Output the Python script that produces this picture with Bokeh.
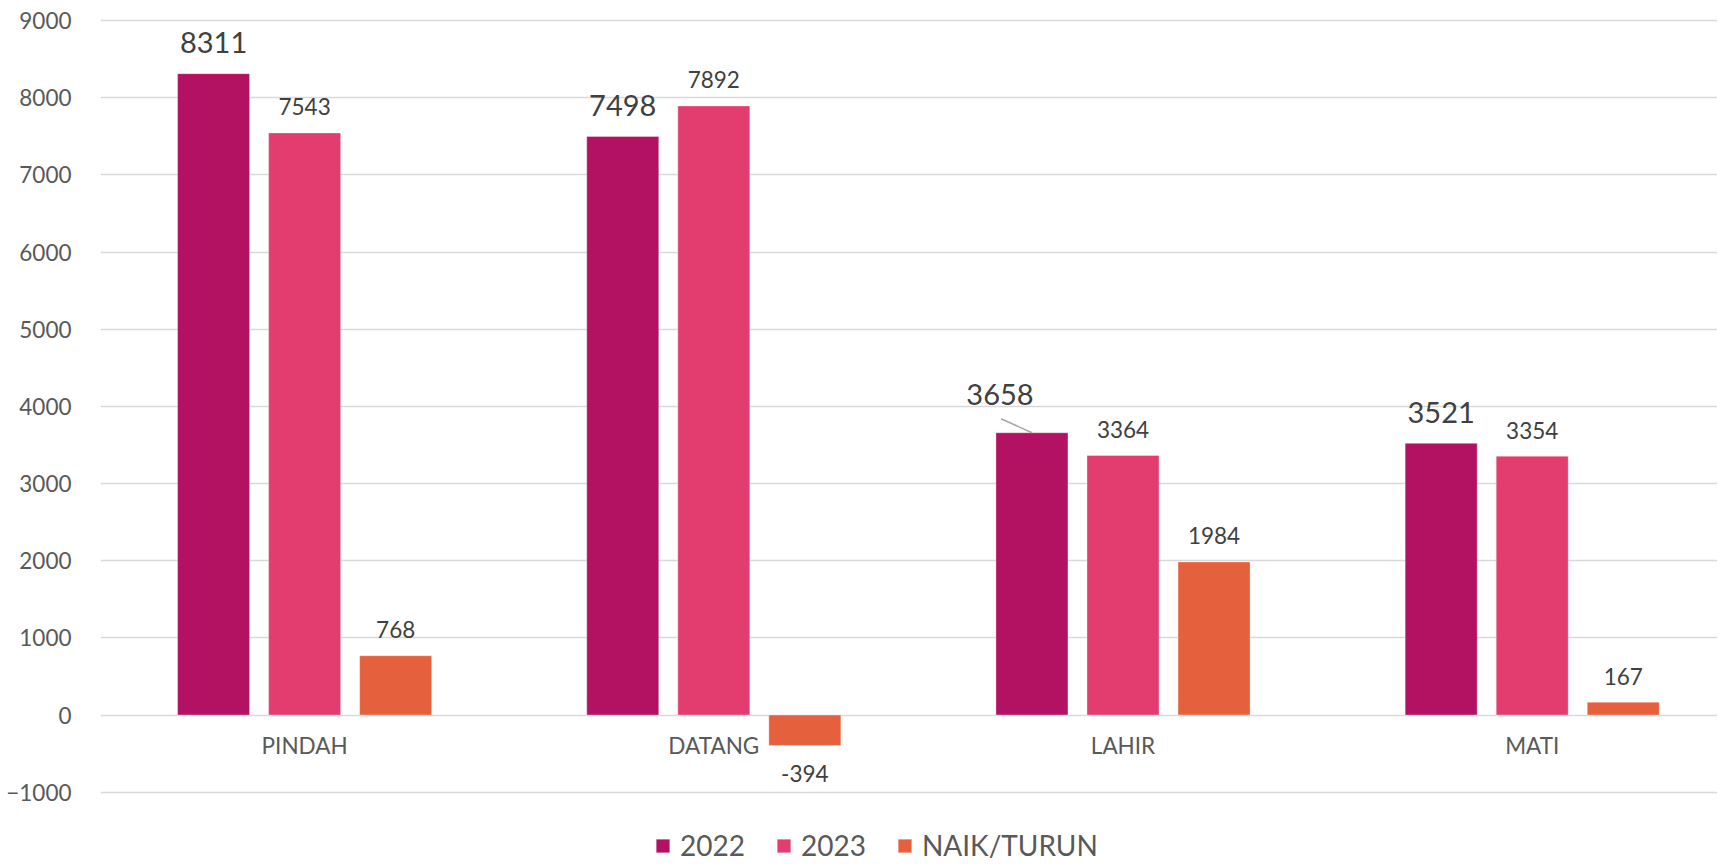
import numpy as np
from bokeh.plotting import figure
from bokeh.models import ColumnDataSource, Range1d, FixedTicker, Legend
from bokeh.core.properties import value
from bokeh.embed import file_html
from bokeh.resources import INLINE

categories = ["PINDAH", "DATANG", "LAHIR", "MATI"]
series_names = ["2022", "2023", "NAIK/TURUN"]
v2022 = [8311, 7498, 3658, 3521]
v2023 = [7543, 7892, 3364, 3354]
vnaik = [768, -394, 1984, 167]
y_ticks = [-1000, 0, 1000, 2000, 3000, 4000, 5000, 6000, 7000, 8000, 9000]

colors = ["#B31262", "#E33D6F", "#E5603C"]
FONT = "Lato"
W, H = 1717, 862
FRAME_LEFT = 100
PX_PER_CAT = 409.2
Y0, Y1 = -1911, 9259

p = figure(width=W, height=H, output_backend="svg", toolbar_location=None,
           x_range=Range1d(-0.4988, -0.4988 + (W - FRAME_LEFT) / PX_PER_CAT),
           y_range=Range1d(Y0, Y1), x_axis_location=None,
           min_border_left=FRAME_LEFT, min_border_right=0,
           min_border_top=0, min_border_bottom=0)
p.outline_line_color = None
p.background_fill_color = "white"
p.border_fill_color = "white"
p.xgrid.visible = False
p.ygrid.grid_line_color = "#D9D9D9"
p.ygrid.grid_line_width = 1.5
p.yaxis.ticker = FixedTicker(ticks=y_ticks)
p.yaxis.axis_line_color = None
p.yaxis.major_tick_line_color = None
p.yaxis.minor_tick_line_color = None
p.yaxis.major_label_standoff = 23
p.yaxis.major_label_text_font = FONT
p.yaxis.major_label_text_font_size = "22.5px"
p.yaxis.major_label_text_color = "#595959"

xs = np.arange(len(categories))
bar_w = 0.176
offsets = [-0.2225, 0.0, 0.2225]
all_vals = [v2022, v2023, vnaik]

# category labels at the zero line
cat_src = ColumnDataSource(dict(x=xs, y=[0] * len(xs), t=categories))
p.text(x="x", y="y", text="t", source=cat_src, text_align="center",
       text_baseline="alphabetic", y_offset=30, text_font=value(FONT),
       text_font_size="22.5px", text_color="#595959")

renderers = []
for name, vals, off, col in zip(series_names, all_vals, offsets, colors):
    src = ColumnDataSource(dict(x=xs + off, top=vals))
    r = p.vbar(x="x", top="top", bottom=0, width=bar_w, source=src,
               fill_color=col, line_color="white", line_alpha=0.35, line_width=1)
    renderers.append((name, r))

px_per_unit_y = H / (Y1 - Y0)
for i, (name, vals, off) in enumerate(zip(series_names, all_vals, offsets)):
    big = (i == 0)
    xo, yo = [], []
    for j, v in enumerate(vals):
        if v < 0:
            xo.append(0); yo.append(28)
        elif big and categories[j] == "LAHIR":
            xo.append(-32); yo.append(-38)
        else:
            xo.append(0); yo.append(-31 if big else -26)
    src = ColumnDataSource(dict(x=xs + off, y=vals, t=[str(v) for v in vals],
                                xo=xo, yo=yo))
    p.text(x="x", y="y", text="t", source=src, x_offset="xo", y_offset="yo",
           text_align="center", text_baseline="alphabetic",
           text_font=value(FONT), text_font_size="29px" if big else "22.5px",
           text_color="#404040")

# leader line for the shifted LAHIR 2022 label
j = categories.index("LAHIR")
x_end = xs[j] + offsets[0]
y_end = v2022[j]
p.segment(x0=[x_end - 31 / PX_PER_CAT], y0=[y_end + 14 / px_per_unit_y],
          x1=[x_end], y1=[y_end], line_color="#A6A6A6", line_width=1.5)

legend = Legend(items=[(n, [r]) for n, r in renderers], orientation="horizontal",
                location=(554, 0), glyph_width=17, glyph_height=17,
                label_standoff=9, spacing=30, padding=0, margin=0,
                border_line_color=None, background_fill_alpha=0,
                label_text_font=FONT, label_text_font_size="28px",
                label_text_color="#595959")
p.add_layout(legend, "center")

open("out.html", "w").write(file_html(p, INLINE))
